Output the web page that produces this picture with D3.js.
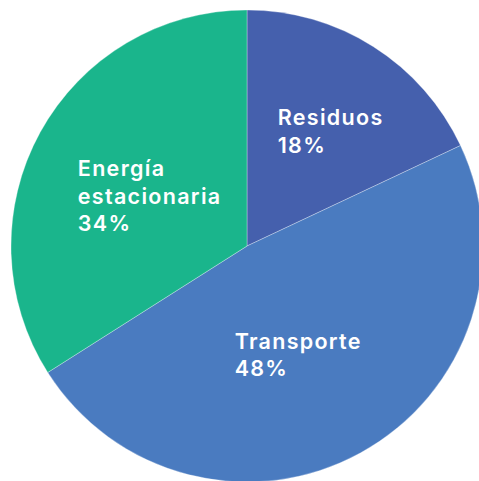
<!DOCTYPE html>
<html>
<head>
<meta charset="utf-8">
<script src="https://cdn.jsdelivr.net/npm/d3@7"></script>
<style>
  html, body { margin: 0; padding: 0; background: #ffffff; }
  svg { display: block; }
  text { font-family: "Inter", "Roboto", sans-serif; font-weight: 600; fill: #ffffff; }
</style>
</head>
<body>
<svg id="chart" width="479" height="481"></svg>
<script>
const categories = ["Residuos", "Transporte", "Energía estacionaria"];
const labelLines = [["Residuos"], ["Transporte"], ["Energía", "estacionaria"]];
const values = [18, 48, 34];
const colors = ["#4560ad", "#4a7bc0", "#1ab58c"];

const width = 479, height = 481;
const cx = 247, cy = 246, radius = 236;
// label placement: radius fraction and small angular nudge (degrees)
const labelRadiusFrac = [0.601, 0.507, 0.466];
const labelAngleNudge = [3.4, 3.8, -1.8];
const fontSize = 21.5, lineHeight = 27.5, letterSpacing = 1.3;
const capHeight = fontSize * 0.727;

const svg = d3.select("#chart");
const g = svg.append("g").attr("transform", `translate(${cx},${cy})`);

const data = categories.map((c, i) => ({ name: c, value: values[i], lines: labelLines[i], color: colors[i], idx: i }));
const pie = d3.pie().value(d => d.value).sort(null);
const arcs = pie(data);
const arc = d3.arc().innerRadius(0).outerRadius(radius);

g.selectAll("path.slice")
  .data(arcs)
  .join("path")
  .attr("class", "slice")
  .attr("d", arc)
  .attr("fill", d => d.data.color)
  .attr("stroke", "#ffffff")
  .attr("stroke-opacity", 0.5)
  .attr("stroke-width", 0.6);

const labels = g.selectAll("g.label")
  .data(arcs)
  .join("g")
  .attr("class", "label");

labels.each(function(d) {
  const sel = d3.select(this);
  const lines = d.data.lines.concat([d3.format(".0f")(d.data.value) + "%"]);
  const t = sel.append("text")
    .style("font-size", fontSize + "px")
    .style("letter-spacing", letterSpacing + "px");
  lines.forEach((l, i) => {
    t.append("tspan").attr("x", 0).attr("y", i * lineHeight).text(l);
  });
  const bb = t.node().getBBox();
  const w = bb.width - letterSpacing;
  const top = -capHeight, bottom = (lines.length - 1) * lineHeight;
  const mid = (d.startAngle + d.endAngle) / 2 + labelAngleNudge[d.data.idx] * Math.PI / 180;
  const r = radius * labelRadiusFrac[d.data.idx];
  const px = r * Math.sin(mid), py = -r * Math.cos(mid);
  sel.attr("transform", `translate(${px - (bb.x + w / 2)},${py - (top + bottom) / 2})`);
});
</script>
</body>
</html>
